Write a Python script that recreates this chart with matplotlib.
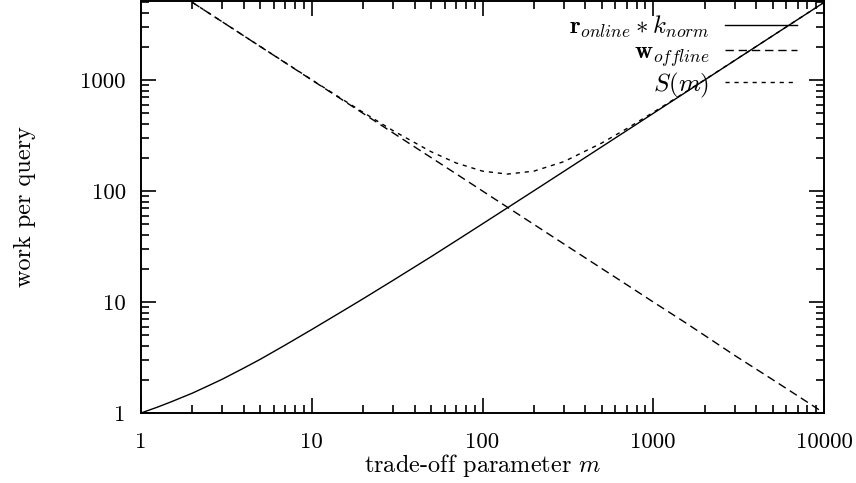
import matplotlib
matplotlib.use('Agg')
import matplotlib.pyplot as plt
from matplotlib.ticker import FixedLocator, NullFormatter, LogLocator

# Werte
m_vals = [1, 1.25, 1.5, 2, 2.5, 3, 4, 5, 7, 10, 15, 20, 30, 50, 70, 100, 140,
          200, 300, 500, 700, 1000, 1500, 2000, 3000, 5000, 7000, 10000]
r_online = [1, 1.13, 1.26, 1.51, 1.77, 2.02, 2.54, 3.05, 4.1, 5.65, 8.2,
            10.7, 15.7, 25.6, 35.6, 50.6, 70.6, 100.5, 150.5, 250.5, 350.5,
            500.5, 750.5, 1000, 1500, 2500, 3500, 5000]
m_off = m_vals[3:]
w_offline = [5000, 4000, 3333, 2500, 2000, 1429, 1000, 667, 500, 333, 200,
             143, 100, 71.4, 50, 33.3, 20, 14.3, 10, 6.7, 5, 3.3, 2, 1.43, 1]
s_m = [5001, 4002, 3335, 2503, 2003, 1433, 1006, 675, 511, 349, 226, 179,
       151, 142, 151, 184, 271, 365, 511, 757, 1005, 1503, 2502, 3501, 5001]

x_ticks = [1, 10, 100, 1000, 10000]
x_labels = ['1', '10', '100', '1000', '10000']
y_ticks = [1, 10, 100, 1000]
y_labels = ['1', '10', '100', '1000']

plt.rcParams['font.family'] = 'cmr10'
plt.rcParams['mathtext.fontset'] = 'cm'
plt.rcParams['axes.formatter.use_mathtext'] = True

fig = plt.figure(figsize=(8.56, 4.83), dpi=100)
ax = fig.add_axes([141 / 856, 70 / 483, 683 / 856, 412 / 483])

ax.plot(m_vals, r_online, color='black', lw=1.0,
        label=r'$\mathbf{r}_{online} * k_{norm}$')
ax.plot(m_off, w_offline, color='black', lw=1.0, dashes=(6, 3.5),
        label=r'$\mathbf{w}_{offline}$')
ax.plot(m_off, s_m, color='black', lw=1.0, dashes=(3, 3.5),
        label=r'$S(m)$')

ax.set_xscale('log')
ax.set_yscale('log')
ax.set_xlim(1, 10000)
ax.set_ylim(1, 5150)

ax.xaxis.set_major_locator(FixedLocator(x_ticks))
ax.set_xticklabels(x_labels)
ax.yaxis.set_major_locator(FixedLocator(y_ticks))
ax.set_yticklabels(y_labels)
ax.xaxis.set_minor_locator(LogLocator(base=10, subs=range(2, 10), numticks=20))
ax.yaxis.set_minor_locator(LogLocator(base=10, subs=range(2, 10), numticks=20))
ax.xaxis.set_minor_formatter(NullFormatter())
ax.yaxis.set_minor_formatter(NullFormatter())

ax.tick_params(which='both', direction='in', top=True, right=True, width=1.2)
ax.tick_params(which='major', length=11, labelsize=16.5)
ax.tick_params(which='minor', length=6)
ax.tick_params(axis='x', pad=14)
ax.tick_params(axis='y', pad=11)
for s in ax.spines.values():
    s.set_linewidth(1.4)

ax.set_xlabel(r'trade-off parameter $m$', fontsize=17.5, labelpad=0)
ax.set_ylabel('work per query', fontsize=17.5, labelpad=32)

leg = ax.legend(loc='upper right', bbox_to_anchor=(0.9605, 0.968),
                frameon=False, markerfirst=False, fontsize=18,
                handlelength=2.9, handletextpad=0.6, labelspacing=0.05,
                borderpad=0, borderaxespad=0)

fig.savefig('out.png', dpi=100)
